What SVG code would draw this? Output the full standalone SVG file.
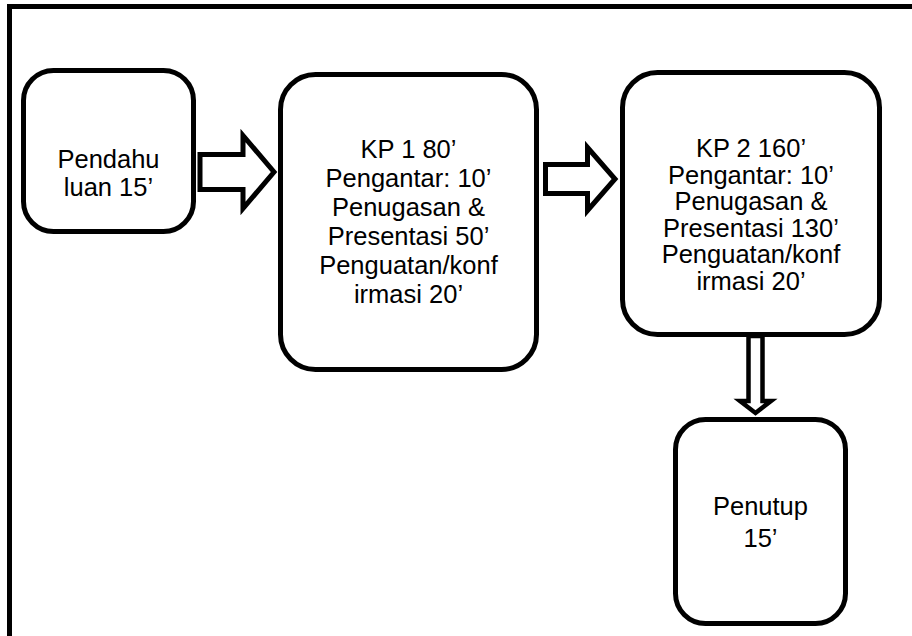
<svg xmlns="http://www.w3.org/2000/svg" width="912" height="636" viewBox="0 0 912 636">
<style>
.frame{fill:none;stroke:#000;stroke-width:5}
.box{fill:#fff;stroke:#000;stroke-width:5}
.arr{fill:#fff;stroke:#000;stroke-width:5;stroke-linejoin:miter;stroke-miterlimit:10}
.t{font-family:"Liberation Sans",Arial,sans-serif;font-size:25.5px;fill:#000;text-anchor:middle}
</style>
<rect width="912" height="636" fill="#fff"/>
<rect class="frame" x="9.5" y="6.5" width="920" height="660"/>
<g id="connectors">
<polygon class="arr" points="200,154.5 243,154.5 243,135.5 274,172 243,208.5 243,189.5 200,189.5"/>
<polygon class="arr" points="545.5,164.5 587.5,164.5 587.5,147.5 615,179 587.5,210.5 587.5,193.5 545.5,193.5"/>
<polygon class="arr" style="stroke-width:4.5" points="748.5,336 762.5,336 762.5,401 771,401 755.5,413 740,401 748.5,401"/>
</g>
<g id="pendahuluan">
<rect class="box" x="23.5" y="70.5" width="170" height="161" rx="30"/>
<text class="t" x="108.5" y="168">Pendahu</text>
<text class="t" x="108.5" y="196">luan 15’</text>
</g>
<g id="kp1">
<rect class="box" x="280.5" y="74.5" width="256" height="295" rx="35"/>
<text class="t" x="408.5" y="157.7">KP 1 80’</text>
<text class="t" x="408.5" y="186.7">Pengantar: 10’</text>
<text class="t" x="408.5" y="216">Penugasan &amp;</text>
<text class="t" x="408.5" y="245">Presentasi 50’</text>
<text class="t" x="408.5" y="274">Penguatan/konf</text>
<text class="t" x="408.5" y="303">irmasi 20’</text>
</g>
<g id="kp2">
<rect class="box" x="622.5" y="72.5" width="257" height="262" rx="35"/>
<text class="t" x="751" y="157">KP 2 160’</text>
<text class="t" x="751" y="183.6">Pengantar: 10’</text>
<text class="t" x="751" y="210.2">Penugasan &amp;</text>
<text class="t" x="751" y="236.8">Presentasi 130’</text>
<text class="t" x="751" y="263.4">Penguatan/konf</text>
<text class="t" x="751" y="290">irmasi 20’</text>
</g>
<g id="penutup">
<rect class="box" x="675.5" y="419.5" width="170" height="204" rx="30"/>
<text class="t" x="760.5" y="515">Penutup</text>
<text class="t" x="760.5" y="547">15’</text>
</g>
</svg>
